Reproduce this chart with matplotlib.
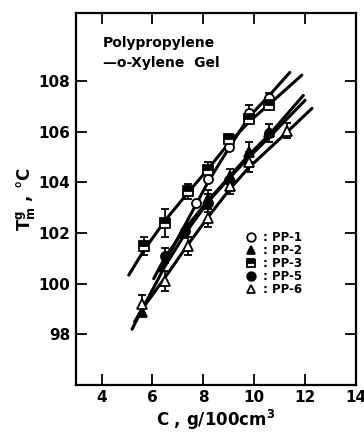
import numpy as np
import matplotlib.pyplot as plt

plt.rcParams['font.family'] = ['DejaVu Sans']
plt.rcParams['mathtext.fontset'] = 'dejavusans'

# measured points (C in g/100cm3, Tm in degC)
pp1_x = [7.7, 8.2, 9.0, 9.8, 10.6]
pp1_y = [103.2, 104.15, 105.4, 106.75, 107.35]
pp1_err = [0, 0, 0, 0.3, 0.2]

pp2_x = [5.6, 7.2, 8.2, 9.05, 9.8, 10.6]
pp2_y = [98.9, 102.0, 103.35, 104.25, 105.2, 106.0]
pp2_err = [0, 0, 0.35, 0.3, 0.4, 0]

pp3_x = [5.65, 6.5, 7.4, 8.2, 9.0, 9.8, 10.6]
pp3_y = [101.5, 102.4, 103.65, 104.5, 105.7, 106.5, 107.05]
pp3_err = [0.35, 0.55, 0.3, 0.3, 0, 0, 0]

pp5_x = [6.5, 7.3, 8.2, 9.0, 10.6]
pp5_y = [101.1, 102.1, 103.2, 104.1, 105.95]
pp5_err = [0.3, 0, 0.35, 0, 0.35]

pp6_x = [5.6, 6.5, 7.4, 8.2, 9.05, 9.8, 11.3]
pp6_y = [99.2, 100.1, 101.5, 102.6, 103.85, 104.8, 106.05]
pp6_err = [0.35, 0.4, 0.35, 0.35, 0.3, 0.4, 0.3]

# fitted curves
pp1_cx = [6.3, 7.7, 8.2, 9.0, 9.8, 10.6, 11.4]
pp1_cy = [100.5, 103.1, 104.05, 105.35, 106.6, 107.45, 108.35]
pp2_cx = [5.3, 5.6, 6.5, 7.3, 8.2, 9.0, 9.8, 10.6, 12.0]
pp2_cy = [98.5, 99.0, 100.7, 102.0, 103.25, 104.15, 105.0, 105.8, 107.25]
pp3_cx = [5.07, 5.65, 6.5, 7.4, 8.2, 9.0, 9.8, 10.6, 11.87]
pp3_cy = [100.34, 101.3, 102.5, 103.6, 104.55, 105.55, 106.4, 107.1, 108.24]
pp5_cx = [6.05, 6.5, 7.3, 8.2, 9.0, 9.8, 10.6, 11.93]
pp5_cy = [100.2, 101.05, 102.2, 103.3, 104.2, 105.1, 105.9, 107.44]
pp6_cx = [5.2, 5.6, 6.5, 7.4, 8.2, 9.05, 9.8, 11.3, 12.27]
pp6_cy = [98.2, 99.0, 100.25, 101.55, 102.65, 103.75, 104.6, 106.0, 106.93]

x_ticks = [4, 6, 8, 10, 12, 14]
y_ticks = [98, 100, 102, 104, 106, 108]

fig = plt.figure(figsize=(3.64, 4.32), dpi=100)
ax = fig.add_axes([0.209, 0.109, 0.769, 0.861])

for cx, cy in [(pp1_cx, pp1_cy), (pp2_cx, pp2_cy), (pp3_cx, pp3_cy),
               (pp5_cx, pp5_cy), (pp6_cx, pp6_cy)]:
    ax.plot(cx, cy, color='black', lw=2.2, solid_capstyle='round', zorder=2)

series = [
    (pp1_x, pp1_y, pp1_err, dict(marker='o', mfc='white'), ': PP-1'),
    (pp2_x, pp2_y, pp2_err, dict(marker='^', mfc='black'), ': PP-2'),
    (pp3_x, pp3_y, pp3_err, dict(marker='s', mfc='black', fillstyle='top',
                                 mfcalt='white'), ': PP-3'),
    (pp5_x, pp5_y, pp5_err, dict(marker='o', mfc='black'), ': PP-5'),
    (pp6_x, pp6_y, pp6_err, dict(marker='^', mfc='white'), ': PP-6'),
]
handles = []
for x, y, e, mk, lab in series:
    e = np.array(e)
    sel = e > 0
    ax.errorbar(np.array(x)[sel], np.array(y)[sel], yerr=e[sel], fmt='none',
                ecolor='black', elinewidth=1.3, capsize=3, capthick=1.3, zorder=3)
    h, = ax.plot(x, y, ls='none', ms=6.5, mec='black', mew=1.3, zorder=4, **mk)
    handles.append(h)

leg = ax.legend(handles, [s[4] for s in series], loc='upper left',
                bbox_to_anchor=(0.58, 0.43), frameon=False, fontsize=8.5,
                labelspacing=0.0, handletextpad=0.4, handlelength=1.2,
                borderpad=0, markerscale=0.95)
for t in leg.get_texts():
    t.set_fontweight('bold')

ax.text(0.095, 0.92, 'Polypropylene', transform=ax.transAxes,
        fontsize=10, fontweight='bold', va='center')
ax.text(0.095, 0.865, '\u2014o-Xylene  Gel', transform=ax.transAxes,
        fontsize=10, fontweight='bold', va='center')

ax.set_xlim(3, 14)
ax.set_ylim(96, 110.7)
ax.set_xticks(x_ticks)
ax.set_yticks(y_ticks)
ax.tick_params(direction='in', length=8, width=1.3, labelsize=11,
               top=True, right=True, pad=4)
for lbl in ax.get_xticklabels() + ax.get_yticklabels():
    lbl.set_fontweight('bold')
for s in ax.spines.values():
    s.set_linewidth(1.6)

ax.set_xlabel(r'C , g/100cm$^{\mathbf{3}}$', fontsize=12, fontweight='bold',
              labelpad=2)
ax.set_ylabel(r'$\mathbf{T_m^g}$ , °C', fontsize=12, fontweight='bold',
              labelpad=1)

fig.savefig('out.png', dpi=100)
